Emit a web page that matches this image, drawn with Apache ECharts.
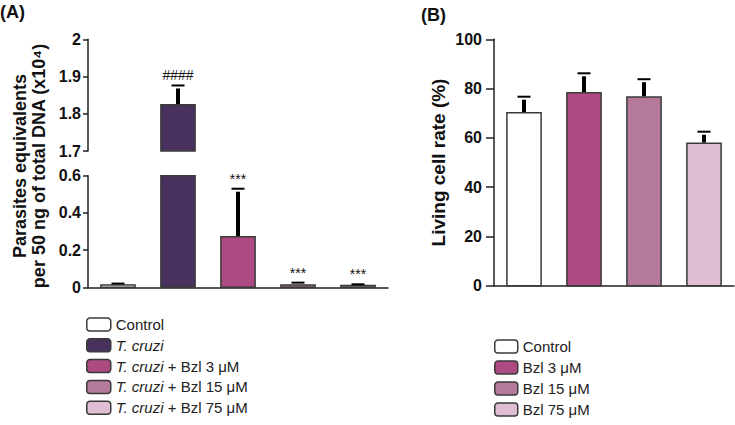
<!DOCTYPE html>
<html>
<head>
<meta charset="utf-8">
<script src="https://cdn.jsdelivr.net/npm/echarts@6/dist/echarts.min.js"></script>
<style>
    html, body { margin: 0; padding: 0; background: #fff; }
    #chart { width: 735px; height: 425px; }
</style>
</head>
<body>
<div id="chart"></div>
<script>
// panel (A) - parasite load
var groupsA = ['Control', 'T. cruzi', 'T. cruzi + Bzl 3 μM', 'T. cruzi + Bzl 15 μM', 'T. cruzi + Bzl 75 μM'];
var meanA = [0.012, 1.824, 0.272, 0.013, 0.010];
var errA = [0.008, 0.052, 0.258, 0.012, 0.006];
var marksA = ['', '####', '***', '***', '***'];
var ticksLowA = [0, 0.2, 0.4, 0.6];
var ticksHighA = [1.7, 1.8, 1.9, 2];

// panel (B) - viability
var groupsB = ['Control', 'Bzl 3 μM', 'Bzl 15 μM', 'Bzl 75 μM'];
var meanB = [70.2, 78.3, 76.6, 57.8];
var errB = [6.5, 7.9, 7.2, 4.7];
var ticksB = [0, 20, 40, 60, 80, 100];

var colorsA = ['#ffffff', '#48315f', '#ad4a81', '#b5799b', '#dfbdd3'];
var colorsB = ['#ffffff', '#ad4a81', '#b5799b', '#dfbdd3'];

var FONT = "'Liberation Sans', Arial, sans-serif";
var NARROW = "'Liberation Sans Narrow', 'Liberation Sans', Arial, sans-serif";
var EDGE = '#3a3a3a';

var chart = echarts.init(document.getElementById('chart'), null, {renderer: 'svg'});

// bars + error bars, clipped to the axis range [ymin, ymax]
function barRender(marks, colors, ymin, ymax) {
    return function (params, api) {
        var i = api.value(0), v = api.value(1), e = api.value(2);
        if (v <= ymin) return;
        var pb = api.coord([i, ymin]);
        var pt = api.coord([i, Math.min(v, ymax)]);
        var bw = api.size([1, 0])[0] * 0.57;
        var kids = [{
            type: 'rect',
            shape: {x: pb[0] - bw / 2, y: pt[1], width: bw, height: pb[1] - pt[1]},
            style: {fill: colors[i], stroke: EDGE, lineWidth: 1.5}
        }];
        if (v < ymax) {
            var pe = api.coord([i, Math.min(v + e, ymax)]);
            if (pt[1] - (pe[1] + 3) > 0) {
                kids.push({type: 'line', shape: {x1: pb[0], y1: pt[1] - 0.75, x2: pb[0], y2: pe[1] + 3},
                    style: {stroke: '#000', lineWidth: 4}});
            }
            kids.push({type: 'line', shape: {x1: pb[0] - 6.5, y1: pe[1], x2: pb[0] + 6.5, y2: pe[1]},
                style: {stroke: '#000', lineWidth: 2}});
            if (marks && marks[i]) {
                kids.push({type: 'text', x: pb[0], y: pe[1] - 3,
                    style: {text: marks[i], fill: '#111', fontSize: 14, fontFamily: FONT,
                        align: 'center', verticalAlign: 'bottom'}});
            }
        }
        return {type: 'group', children: kids};
    };
}

function valueAxis(grid, ticks, labelFont, tickLen, margin) {
    return {
        type: 'value',
        gridIndex: grid,
        min: ticks[0],
        max: ticks[ticks.length - 1],
        interval: ticks[1] - ticks[0],
        splitLine: {show: false},
        axisLine: {show: true, lineStyle: {color: '#222', width: 1.5}},
        axisTick: {show: true, length: tickLen, lineStyle: {color: '#222', width: 1.5}},
        axisLabel: {
            color: '#111', fontSize: 16, fontWeight: 'bold', fontFamily: labelFont, margin: margin,
            formatter: function (v) { return String(parseFloat(v.toFixed(1))); }
        }
    };
}

var series = [];
groupsA.forEach(function (name, i) {
    // lower segment 0 - 0.6
    series.push({
        type: 'custom', name: name, xAxisIndex: 0, yAxisIndex: 0, clip: false,
        itemStyle: {color: colorsA[i], borderColor: EDGE, borderWidth: 1.5},
        renderItem: barRender(marksA, colorsA, ticksLowA[0], ticksLowA[ticksLowA.length - 1]),
        data: [[i, meanA[i], errA[i]]]
    });
    // upper segment 1.7 - 2
    series.push({
        type: 'custom', name: name, xAxisIndex: 1, yAxisIndex: 1, clip: false,
        itemStyle: {color: colorsA[i], borderColor: EDGE, borderWidth: 1.5},
        renderItem: barRender(marksA, colorsA, ticksHighA[0], ticksHighA[ticksHighA.length - 1]),
        data: [[i, meanA[i], errA[i]]]
    });
});
groupsB.forEach(function (name, i) {
    series.push({
        type: 'custom', name: name, xAxisIndex: 2, yAxisIndex: 2, clip: false,
        itemStyle: {color: colorsB[i], borderColor: EDGE, borderWidth: 1.5},
        renderItem: barRender(null, colorsB, ticksB[0], ticksB[ticksB.length - 1]),
        data: [[i, meanB[i], errB[i]]]
    });
});

function legendItems(names, colors) {
    return names.map(function (n, i) {
        return {name: n, icon: 'roundRect', itemStyle: {color: colors[i], borderColor: EDGE, borderWidth: 1.5}};
    });
}

var legendText = {
    color: '#222', fontSize: 15, fontFamily: FONT,
    rich: {i: {fontStyle: 'italic', fontSize: 15, fontFamily: FONT, color: '#222'}}
};

var option = {
    animation: false,
    backgroundColor: '#fff',
    grid: [
        {left: 88, top: 175.7, width: 300, height: 111.6, outerBoundsMode: 'none'},
        {left: 88, top: 39.3, width: 300, height: 111.7, outerBoundsMode: 'none'},
        {left: 494, top: 39.3, width: 240, height: 246.4, outerBoundsMode: 'none'}
    ],
    xAxis: [
        {
            type: 'category', gridIndex: 0, data: groupsA,
            axisLine: {lineStyle: {color: '#222', width: 1.5}},
            axisTick: {length: 7, lineStyle: {color: '#222', width: 1.5}},
            axisLabel: {show: false}
        },
        {type: 'category', gridIndex: 1, data: groupsA, show: false},
        {
            type: 'category', gridIndex: 2, data: groupsB,
            axisLine: {lineStyle: {color: '#222', width: 1.5}},
            axisTick: {length: 7, lineStyle: {color: '#222', width: 1.5}},
            axisLabel: {show: false}
        }
    ],
    yAxis: [
        valueAxis(0, ticksLowA, NARROW, 5, 7),
        valueAxis(1, ticksHighA, NARROW, 5, 7),
        Object.assign(valueAxis(2, ticksB, FONT, 8, 12), {
            name: 'Living cell rate (%)',
            nameLocation: 'middle',
            nameGap: 46,
            nameTextStyle: {color: '#111', fontSize: 19, fontWeight: 'bold', fontFamily: FONT}
        })
    ],
    legend: [
        {
            orient: 'vertical', left: 86, top: 317, height: 108, padding: 0,
            itemWidth: 24, itemHeight: 13, itemGap: 5.8,
            data: legendItems(groupsA, colorsA),
            textStyle: legendText,
            formatter: function (n) { return n.replace('T. cruzi', '{i|T. cruzi}'); },
            selectedMode: false
        },
        {
            orient: 'vertical', left: 494, top: 339, height: 86, padding: 0,
            itemWidth: 23, itemHeight: 13, itemGap: 6,
            data: legendItems(groupsB, colorsB),
            textStyle: legendText,
            selectedMode: false
        }
    ],
    graphic: [
        {type: 'text', left: 0, top: 3,
            style: {text: '(A)', fontSize: 18, fontWeight: 'bold', fontFamily: FONT, fill: '#111'}},
        {type: 'text', left: 421, top: 6,
            style: {text: '(B)', fontSize: 18, fontWeight: 'bold', fontFamily: FONT, fill: '#111'}},
        {type: 'text', x: 29, y: 166, rotation: Math.PI / 2,
            style: {text: 'Parasites equivalents\nper 50 ng of total DNA (x10⁴)', fontSize: 18, fontWeight: 'bold',
                fontFamily: FONT, fill: '#111', align: 'center', verticalAlign: 'middle', lineHeight: 19}}
    ],
    series: series
};

chart.setOption(option);
</script>
</body>
</html>
